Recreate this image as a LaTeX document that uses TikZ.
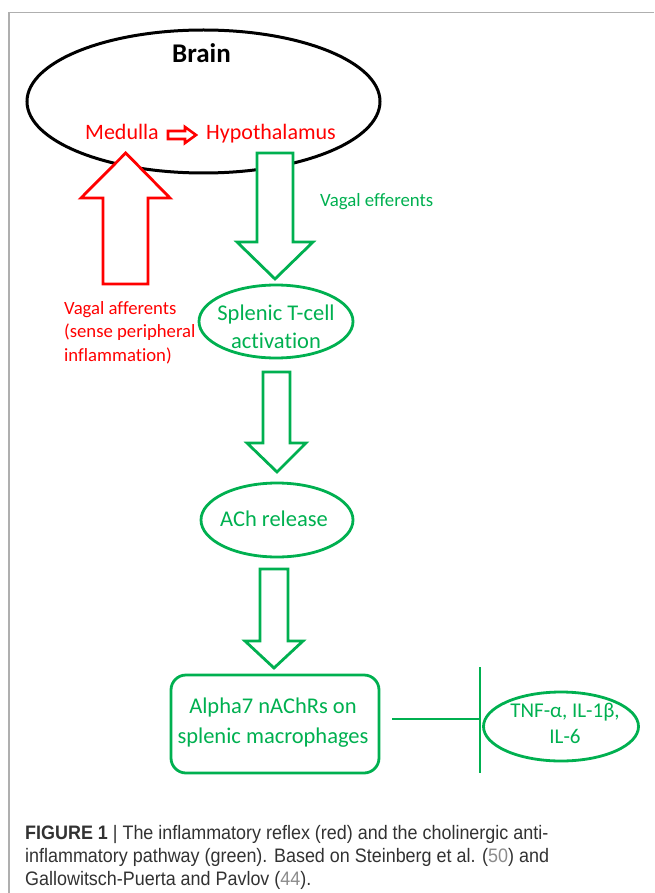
\documentclass[tikz,border=0pt]{standalone}
\usepackage{fontspec}
\setmainfont{Carlito}[Ligatures=NoCommon]
\newfontfamily\capfont{Liberation Sans}[FakeStretch=0.92]
\usetikzlibrary{shapes.geometric}
\definecolor{gr}{RGB}{0,176,80}
\definecolor{rd}{RGB}{255,0,0}
\definecolor{framegray}{RGB}{175,175,175}
\definecolor{captext}{RGB}{50,50,50}
\definecolor{cite}{RGB}{140,140,140}
\tikzset{
  oval/.style={ellipse, draw=gr, line width=2.8pt, inner sep=0pt},
  blk/.style={draw=gr, line width=2.8pt, fill=white, line join=miter},
  rblk/.style={draw=rd, line width=2.8pt, fill=white, line join=miter},
  gtxt/.style={text=gr, font=\fontsize{22.5}{28}\selectfont, inner sep=0pt},
  rtxt/.style={text=rd, font=\fontsize{22}{24}\selectfont, inner sep=0pt},
}
\begin{document}
\begin{tikzpicture}[x=1pt,y=-1pt]
\useasboundingbox (0,0) rectangle (654,893);
% frame
\draw[framegray, line width=1.4pt] (9,893) -- (9,12.7) -- (654,12.7);
% brain
\node[ellipse, draw=black, line width=3pt, minimum width=353pt, minimum height=143pt, inner sep=0pt] (brainov) at (203.5,101.5) {};
\node[anchor=base, font=\bfseries\fontsize{27}{32}\selectfont, inner sep=0pt] (brain) at (201.5,63) {Brain};
\node[rtxt, anchor=base west] (medulla) at (85,140) {Medulla};
\node[rtxt, anchor=base west] (hypo) at (206,140) {Hypothalamus};
\draw[rd, line width=2.6pt, line join=miter] (168,131) -- (185,131) -- (185,127) -- (196,135) -- (185,143) -- (185,139) -- (168,139) -- cycle;
% green arrow 1
\draw[blk] (257,153) -- (293,153) -- (293,242) -- (313,242) -- (275,279) -- (237,242) -- (257,242) -- cycle;
% red arrow
\draw[rblk] (103,284) -- (148,284) -- (148,198) -- (170,198) -- (125.7,153) -- (81,198) -- (103,198) -- cycle;
\node[gtxt, anchor=base west, font=\fontsize{18.8}{24}\selectfont] (eff) at (320,207) {Vagal efferents};
\node[rtxt, anchor=base west, font=\fontsize{18.7}{23.5}\selectfont] (aff) at (64,314) {\begin{tabular}[t]{@{}l@{}}Vagal afferents\\(sense peripheral\\inflammation)\end{tabular}};
% splenic
\node[oval, minimum width=154pt, minimum height=73pt] (spl) at (276,321.5) {};
\node[gtxt, anchor=base] (spltxt) at (276,320) {\begin{tabular}[t]{@{}c@{}}Splenic T-cell\\activation\end{tabular}};
\draw[blk] (263,372) -- (290,372) -- (290,443) -- (306,443) -- (277,472) -- (247,443) -- (263,443) -- cycle;
% ACh
\node[oval, minimum width=152pt, minimum height=74pt] (ach) at (277,520) {};
\node[gtxt, anchor=base] (achtxt) at (274,526) {ACh release};
\draw[blk] (260,569) -- (288,569) -- (288,641) -- (303,641) -- (274,668) -- (245,641) -- (260,641) -- cycle;
% alpha7
\node[draw=gr, line width=2.8pt, rounded corners=15pt, minimum width=208pt, minimum height=98pt, inner sep=0pt] (alpha) at (275,724) {};
\node[gtxt, anchor=base, font=\fontsize{22.5}{30}\selectfont] (alphatxt) at (273,713) {\begin{tabular}[t]{@{}c@{}}Alpha7 nAChRs on\\splenic macrophages\end{tabular}};
% inhibition
\coordinate (inhs) at (392,719);
\coordinate (bar) at (480,719);
\coordinate (bartop) at (480,667);
\coordinate (barbot) at (480,773);
\draw[gr, line width=2.8pt] (inhs) -- (bar);
\draw[gr, line width=2.8pt] (bartop) -- (barbot);
\node[oval, minimum width=155pt, minimum height=69pt] (tnf) at (561,726.5) {};
\node[gtxt, anchor=base, font=\fontsize{21}{26}\selectfont] (tnftxt) at (565,717) {\begin{tabular}[t]{@{}c@{}}TNF-α, IL-1β,\\IL-6\end{tabular}};
% caption
\node[anchor=base west, inner sep=0pt, text=captext, font=\capfont\fontsize{19.5}{23}\selectfont] (cap) at (25,839) {\begin{tabular}[t]{@{}l@{}}\textbf{FIGURE 1} | The inflammatory reflex (red) and the cholinergic anti-\\inflammatory pathway (green). Based on Steinberg et al. ({\color{cite}50}) and\\Gallowitsch-Puerta and Pavlov ({\color{cite}44}).\end{tabular}};
\end{tikzpicture}
\end{document}
